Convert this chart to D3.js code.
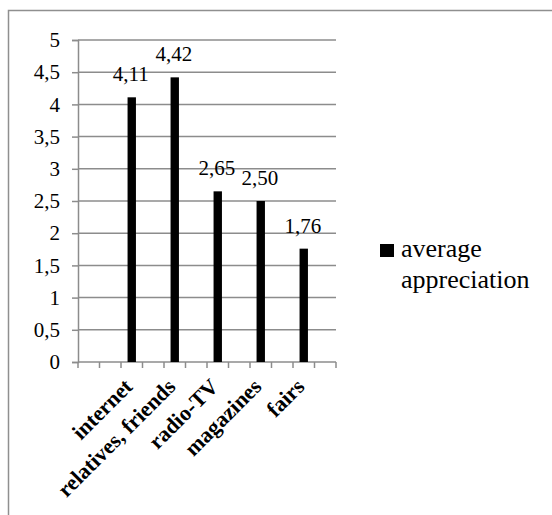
<!DOCTYPE html>
<html>
<head>
<meta charset="utf-8">
<script src="https://cdn.jsdelivr.net/npm/d3@7"></script>
<style>
  html, body { margin: 0; padding: 0; background: #fff; }
  svg { display: block; }
</style>
</head>
<body>
<svg id="chart" width="552" height="515"></svg>
<script>
// Categories (blank slots are empty categories in the original sheet)
const categories = ["", "", "internet", "", "relatives, friends", "", "radio-TV", "", "magazines", "", "fairs", ""];
const values = [null, null, 4.11, null, 4.42, null, 2.65, null, 2.50, null, 1.76, null];
const yTicks = [0, 0.5, 1, 1.5, 2, 2.5, 3, 3.5, 4, 4.5, 5];
const seriesName = ["average", "appreciation"];

const SERIF = "Liberation Serif";
const svg = d3.select("#chart");
const fmt = v => String(v).replace(".", ",");
const fmt2 = v => v.toFixed(2).replace(".", ",");

// outer chart border (cropped at right / bottom)
svg.append("rect")
  .attr("x", 8.5).attr("y", 10.5).attr("width", 600).attr("height", 600)
  .attr("fill", "none").attr("stroke", "#8f8f8f").attr("stroke-width", 1.5);

const plot = { left: 78, right: 336, top: 40, bottom: 362 };

const x = d3.scaleBand()
  .domain(d3.range(categories.length))
  .range([plot.left, plot.right]);

const y = d3.scaleLinear()
  .domain([0, 5])
  .range([plot.bottom, plot.top]);

const g = svg.append("g");

// gridlines
g.selectAll("line.grid").data(yTicks.filter(t => t > 0)).enter().append("line")
  .attr("class", "grid")
  .attr("x1", plot.left).attr("x2", plot.right)
  .attr("y1", d => y(d)).attr("y2", d => y(d))
  .attr("stroke", "#8c8c8c").attr("stroke-width", 1.5);

// y axis
const yAxis = g.append("g")
  .attr("transform", `translate(${plot.left},0)`)
  .call(d3.axisLeft(y).tickValues(yTicks).tickSize(6).tickPadding(12).tickFormat(fmt));
yAxis.attr("font-family", null).attr("font-size", null);
yAxis.select(".domain").attr("stroke", "#8c8c8c").attr("stroke-width", 1.5);
yAxis.selectAll(".tick line").attr("stroke", "#8c8c8c").attr("stroke-width", 1.5);
yAxis.selectAll(".tick text")
  .style("font-family", SERIF)
  .style("font-size", "21px").attr("fill", "#000");

// x axis line and tick marks at band boundaries
g.append("line")
  .attr("x1", plot.left).attr("x2", plot.right)
  .attr("y1", plot.bottom).attr("y2", plot.bottom)
  .attr("stroke", "#8c8c8c").attr("stroke-width", 1.5);
const boundaries = d3.range(categories.length + 1).map(i => plot.left + i * x.step());
g.selectAll("line.xt").data(boundaries).enter().append("line")
  .attr("class", "xt")
  .attr("x1", d => d).attr("x2", d => d)
  .attr("y1", plot.bottom).attr("y2", plot.bottom + 6)
  .attr("stroke", "#8c8c8c").attr("stroke-width", 1.5);

// bars
const barW = x.bandwidth() * 0.39;
const data = values.map((v, i) => ({ i, v, label: categories[i] })).filter(d => d.v !== null);
g.selectAll("rect.bar").data(data).enter().append("rect")
  .attr("class", "bar")
  .attr("x", d => x(d.i) + x.bandwidth() / 2 - barW / 2)
  .attr("width", barW)
  .attr("y", d => y(d.v))
  .attr("height", d => y(0) - y(d.v))
  .attr("fill", "#000");

// data labels
g.selectAll("text.dl").data(data).enter().append("text")
  .attr("class", "dl")
  .attr("x", d => x(d.i) + x.bandwidth() / 2 - 1)
  .attr("y", d => y(d.v) - 16)
  .attr("text-anchor", "middle")
  .style("font-family", SERIF)
  .style("font-size", "21px")
  .text(d => fmt2(d.v));

// category labels
g.selectAll("text.cat").data(data).enter().append("text")
  .attr("class", "cat")
  .attr("transform", d => `translate(${x(d.i) + x.bandwidth() / 2 + 2},${plot.bottom + 26}) rotate(-45)`)
  .attr("text-anchor", "end")
  .style("font-family", SERIF)
  .style("font-size", "22px")
  .style("font-weight", "bold")
  .text(d => d.label);

// legend
const lg = svg.append("g");
lg.append("rect")
  .attr("x", 380).attr("y", 244).attr("width", 14).attr("height", 13)
  .attr("fill", "#000");
lg.selectAll("text").data(seriesName).enter().append("text")
  .attr("x", 401)
  .attr("y", (d, i) => 257 + i * 31)
  .style("font-family", SERIF)
  .style("font-size", "26px")
  .text(d => d);
</script>
</body>
</html>
